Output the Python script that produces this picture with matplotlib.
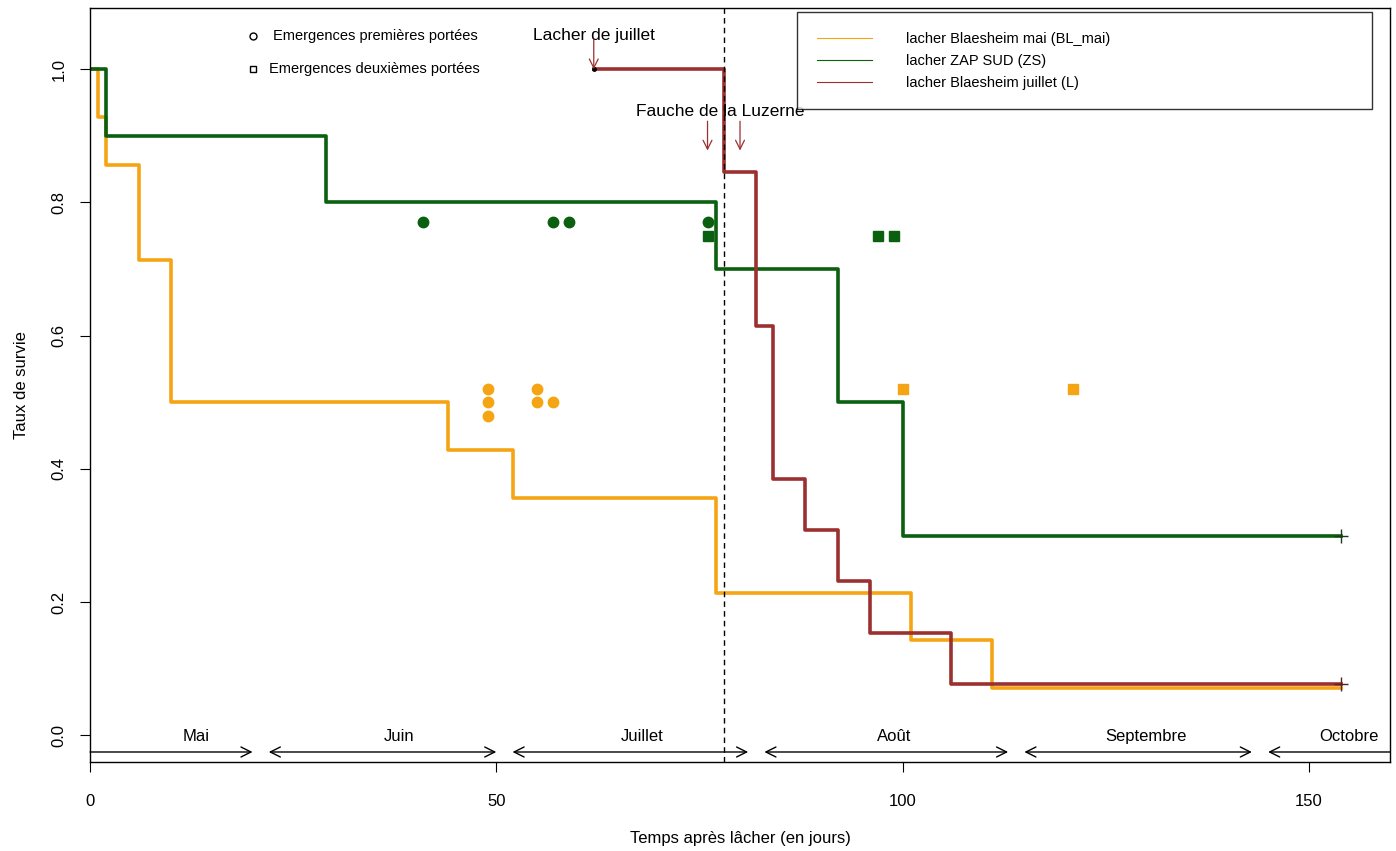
import matplotlib.pyplot as plt

plt.rcParams['font.family'] = ['Liberation Sans', 'DejaVu Sans']

# survival curves (time in days, survival rate)
bl_mai_t = [0, 1, 2, 6, 10, 44, 52, 77, 101, 111, 154]
bl_mai_s = [1.0, 0.929, 0.857, 0.714, 0.5, 0.429, 0.357, 0.214, 0.143, 0.0714, 0.0714]

zs_t = [0, 2, 29, 77, 92, 100, 154]
zs_s = [1.0, 0.9, 0.8, 0.7, 0.5, 0.3, 0.3]

jul_t = [62, 78, 82, 84, 88, 92, 96, 106, 154]
jul_s = [1.0, 0.846, 0.615, 0.385, 0.308, 0.231, 0.154, 0.077, 0.077]

# emergences
zs_first_x = [41, 57, 59, 76]
zs_first_y = [0.77, 0.77, 0.77, 0.77]
zs_second_x = [76, 97, 99]
zs_second_y = [0.75, 0.75, 0.75]
bl_first_x = [49, 49, 49, 55, 55, 57]
bl_first_y = [0.52, 0.50, 0.48, 0.52, 0.50, 0.50]
bl_second_x = [100, 121]
bl_second_y = [0.52, 0.52]

# months
months = ['Mai', 'Juin', 'Juillet', 'Août', 'Septembre', 'Octobre']
month_start = [0, 22, 52, 83, 115, 145]
month_end = [20, 50, 81, 113, 143, 160]
month_label_x = [13, 38, 68, 99, 130, 155]

fauche_days = [76, 80]
cut_day = 78

c_or = '#F5A514'
c_gr = '#0A600F'
c_br = '#9B3030'

fig = plt.figure(figsize=(13.96, 8.51), dpi=100)
ax = fig.add_axes([0.0645, 0.1046, 0.9312, 0.886])

ax.step(bl_mai_t, bl_mai_s, where='post', color=c_or, lw=2.6, label='lacher Blaesheim mai (BL_mai)')
ax.step(zs_t, zs_s, where='post', color=c_gr, lw=2.6, label='lacher ZAP SUD (ZS)')
ax.step(jul_t, jul_s, where='post', color=c_br, lw=2.6, label='lacher Blaesheim juillet (L)')

# censoring marks and start point
ax.plot(zs_t[-1], zs_s[-1], marker='+', color='#1a3a1a', ms=10, mew=1)
ax.plot(jul_t[-1], jul_s[-1], marker='+', color='#5a2020', ms=10, mew=1)
ax.plot(jul_t[0], jul_s[0], marker='o', color='black', ms=2.5)

ax.plot(zs_first_x, zs_first_y, 'o', color=c_gr, ms=7.5)
ax.plot(zs_second_x, zs_second_y, 's', color=c_gr, ms=7)
ax.plot(bl_first_x, bl_first_y, 'o', color=c_or, ms=7.5)
ax.plot(bl_second_x, bl_second_y, 's', color=c_or, ms=7)

ax.axvline(cut_day, color='black', ls=(0, (4, 3)), lw=1)

# months along the bottom
for i, m in enumerate(months):
    if i == 0:
        style = '->'
    elif i == len(months) - 1:
        style = '<-'
    else:
        style = '<->'
    ax.annotate('', xy=(month_end[i], -0.025), xytext=(month_start[i], -0.025),
                arrowprops=dict(arrowstyle=style, color='black', lw=1,
                                mutation_scale=18, shrinkA=0, shrinkB=0))
    ax.text(month_label_x[i], -0.002, m, ha='center', va='center', fontsize=12)

# annotations
ax.text(62, 1.05, 'Lacher de juillet', ha='center', va='center', fontsize=12.5)
ax.annotate('', xy=(62, 1.0), xytext=(62, 1.045),
            arrowprops=dict(arrowstyle='->', color=c_br, lw=0.9,
                            mutation_scale=16, shrinkA=0, shrinkB=0))
ax.text(77.6, 0.937, 'Fauche de la Luzerne', ha='center', va='center', fontsize=12.5)
for d in fauche_days:
    ax.annotate('', xy=(d, 0.878), xytext=(d, 0.922),
                arrowprops=dict(arrowstyle='->', color=c_br, lw=0.9,
                                mutation_scale=16, shrinkA=0, shrinkB=0))

# emergence key
ax.plot(20, 1.05, 'o', mfc='white', mec='black', ms=5, mew=1)
ax.text(22.5, 1.05, 'Emergences premières portées', va='center', fontsize=10.5)
ax.plot(20, 1.0, 's', mfc='white', mec='black', ms=5, mew=1)
ax.text(22, 1.0, 'Emergences deuxièmes portées', va='center', fontsize=10.5)

leg = ax.legend(loc='upper left', bbox_to_anchor=(0.5438, 0.9947, 0.4424, 0.0),
                mode='expand', fontsize=10.5,
                frameon=True, fancybox=False, edgecolor='black', handlelength=3.8,
                handletextpad=2.3, borderpad=1.35, labelspacing=0.55,
                borderaxespad=0)
leg.get_frame().set_linewidth(1)
for ln in leg.get_lines():
    ln.set_linewidth(0.8)

ax.set_xlim(0, 160)
ax.set_ylim(-0.04, 1.092)
ax.set_xticks([0, 50, 100, 150])
ax.set_yticks([0.0, 0.2, 0.4, 0.6, 0.8, 1.0])
ax.set_yticklabels(['0.0', '0.2', '0.4', '0.6', '0.8', '1.0'], rotation=90, va='center')
ax.tick_params(direction='out', length=7, labelsize=12, pad=10)
ax.tick_params(axis='x', pad=16)
ax.set_xlabel('Temps après lâcher (en jours)', fontsize=12, labelpad=16)
ax.set_ylabel('Taux de survie', fontsize=12, labelpad=16)
for s in ax.spines.values():
    s.set_linewidth(1)

fig.savefig('out.png', dpi=100)
